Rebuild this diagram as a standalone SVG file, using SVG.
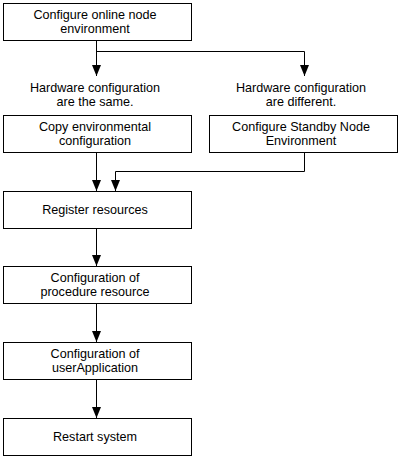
<svg xmlns="http://www.w3.org/2000/svg" width="400" height="458" viewBox="0 0 400 458">
<style>
rect.box{fill:#fff;stroke:#000;stroke-width:1}
text{font-family:"Liberation Sans",Arial,sans-serif;font-size:12.6px;fill:#000;text-anchor:middle}
.conn path{fill:none;stroke:#000;stroke-width:1}
</style>
<defs>
<marker id="arr" markerUnits="userSpaceOnUse" viewBox="0 -5 11 10" refX="11" refY="0" markerWidth="11" markerHeight="10" orient="auto">
<path d="M0,-4.5 L11,0 L0,4.5 Z" fill="#000"/>
</marker>
</defs>
<rect width="400" height="458" fill="#fff"/>
<g class="conn">
<path d="M96.5,40 V76" marker-end="url(#arr)"/>
<path d="M96.5,51.5 H304.5 V76" marker-end="url(#arr)"/>
<path d="M96.5,153 V191" marker-end="url(#arr)"/>
<path d="M304.5,153 V171.5 H115.5 V191" marker-end="url(#arr)"/>
<path d="M96.5,229 V266" marker-end="url(#arr)"/>
<path d="M96.5,304 V342" marker-end="url(#arr)"/>
<path d="M96.5,380 V418" marker-end="url(#arr)"/>
</g>
<g id="n1"><rect class="box" x="3.5" y="3.5" width="188" height="37"/><text x="95" y="19">Configure online node</text><text x="95" y="33">environment</text></g>
<g id="lbl1"><text x="95" y="92">Hardware configuration</text><text x="95" y="106">are the same.</text></g>
<g id="lbl2"><text x="301" y="92">Hardware configuration</text><text x="301" y="106">are different.</text></g>
<g id="n2"><rect class="box" x="3.5" y="115.5" width="188" height="37"/><text x="95" y="131">Copy environmental</text><text x="95" y="145">configuration</text></g>
<g id="n3"><rect class="box" x="209.5" y="115.5" width="188" height="37"/><text x="301" y="131">Configure Standby Node</text><text x="301" y="145">Environment</text></g>
<g id="n4"><rect class="box" x="3.5" y="191.5" width="188" height="37"/><text x="95" y="214">Register resources</text></g>
<g id="n5"><rect class="box" x="3.5" y="266.5" width="188" height="37"/><text x="95" y="282">Configuration of</text><text x="95" y="296">procedure resource</text></g>
<g id="n6"><rect class="box" x="3.5" y="342.5" width="188" height="37"/><text x="95" y="358">Configuration of</text><text x="95" y="372">userApplication</text></g>
<g id="n7"><rect class="box" x="3.5" y="418.5" width="188" height="37"/><text x="95" y="441">Restart system</text></g>
</svg>
